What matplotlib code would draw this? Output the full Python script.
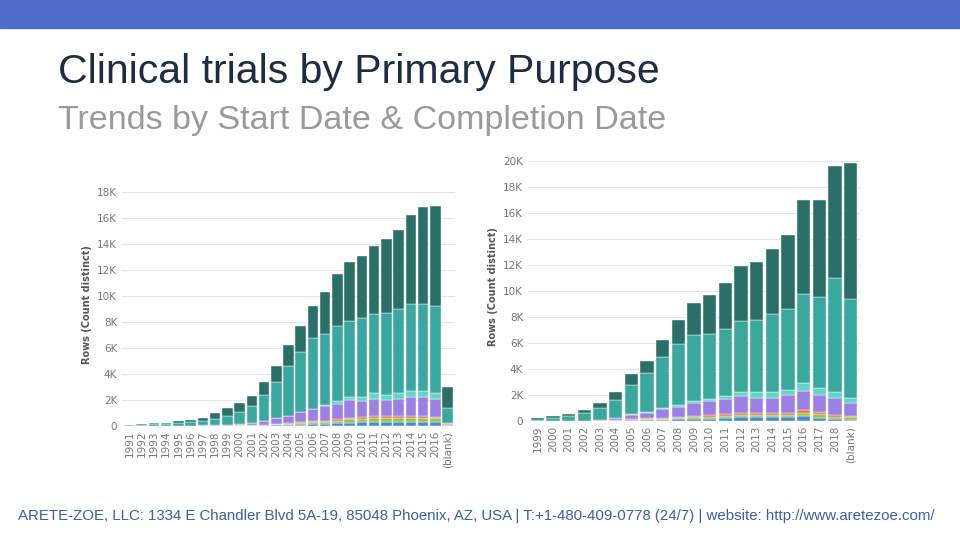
import matplotlib
matplotlib.use("Agg")
import matplotlib.pyplot as plt
import numpy as np

# Left chart (by Start Date): cumulative tops of each layer, in thousands
cats_L = [str(y) for y in range(1991, 2017)] + ["(blank)"]
blue_L   = [0,0,0,0,0,0,0,0,0.01,0.02,0.03,0.04,0.06,0.08,0.1,0.12,0.15,0.2,0.25,0.28,0.3,0.3,0.32,0.33,0.3,0.28,0.05]
green_L  = [0,0,0,0,0,0,0,0,0.02,0.04,0.06,0.08,0.12,0.16,0.22,0.27,0.33,0.42,0.5,0.56,0.6,0.6,0.62,0.65,0.6,0.58,0.1]
orange_L = [0,0,0,0,0,0,0,0,0.02,0.05,0.08,0.1,0.15,0.2,0.28,0.35,0.42,0.52,0.62,0.7,0.75,0.75,0.78,0.8,0.75,0.72,0.12]
purple_L = [0,0,0,0,0,0.02,0.05,0.08,0.1,0.15,0.25,0.4,0.6,0.8,1.1,1.3,1.5,1.7,2.0,1.9,2.1,2.0,2.1,2.2,2.2,2.1,0.2]
aqua_L   = [0,0,0,0,0,0.02,0.05,0.08,0.1,0.15,0.25,0.4,0.6,0.8,1.1,1.3,1.6,1.9,2.2,2.2,2.5,2.4,2.5,2.7,2.7,2.5,0.25]
teal_L   = [0.05,0.1,0.12,0.15,0.2,0.3,0.4,0.55,0.75,1.05,1.5,2.4,3.4,4.6,5.7,6.8,7.1,7.7,8.1,8.3,8.6,8.7,9.0,9.4,9.4,9.2,1.4]
total_L  = [0.1,0.15,0.2,0.25,0.35,0.45,0.65,1.0,1.4,1.8,2.3,3.4,4.6,6.2,7.7,9.2,10.3,11.7,12.6,13.1,13.8,14.4,15.1,16.2,16.8,16.9,3.0]

# Right chart (by Completion Date)
cats_R = [str(y) for y in range(1999, 2019)] + ["(blank)"]
blue_R   = [0,0,0,0,0.02,0.04,0.06,0.08,0.1,0.12,0.15,0.18,0.25,0.3,0.28,0.3,0.3,0.4,0.25,0.12,0.1]
green_R  = [0,0,0,0.01,0.03,0.06,0.1,0.14,0.18,0.22,0.28,0.32,0.4,0.48,0.45,0.48,0.48,0.62,0.5,0.3,0.28]
orange_R = [0,0,0,0.02,0.05,0.1,0.15,0.2,0.25,0.3,0.4,0.45,0.55,0.65,0.6,0.65,0.65,0.85,0.7,0.45,0.4]
purple_R = [0,0,0,0,0.1,0.2,0.45,0.65,0.95,1.1,1.4,1.5,1.7,1.9,1.8,1.8,2.0,2.3,2.0,1.8,1.4]
aqua_R   = [0,0,0,0,0.1,0.25,0.5,0.7,1.0,1.2,1.5,1.7,1.9,2.2,2.2,2.2,2.4,2.9,2.5,2.2,1.8]
teal_R   = [0.1,0.25,0.4,0.6,1.0,1.6,2.8,3.7,4.9,5.9,6.6,6.7,7.1,7.7,7.8,8.2,8.6,9.8,9.5,11.0,9.4]
total_R  = [0.2,0.35,0.55,0.85,1.4,2.2,3.6,4.6,6.2,7.8,9.1,9.7,10.6,11.9,12.2,13.2,14.3,17.0,17.0,19.6,19.8]

colors = ["#3f8fd2", "#9cc24a", "#e8743b", "#9c80e6", "#62d6c2", "#3aa89e", "#2a7068"]

fig = plt.figure(figsize=(9.6, 5.4), dpi=100)
fig.patches.append(plt.Rectangle((0, 1 - 28/540), 1, 28/540, transform=fig.transFigure,
                                 color="#4f6bcb", zorder=0))
fig.text(58/960, 1 - 72/540, "Clinical trials by Primary Purpose", fontsize=29.5,
         color="#1f2a44", va="center", family="Liberation Sans")
fig.text(58/960, 1 - 121/540, "Trends by Start Date & Completion Date", fontsize=24.5,
         color="#9a9a9a", va="center", family="Liberation Sans")
fig.text(476/960, 1 - 516/540,
         "ARETE-ZOE, LLC: 1334 E Chandler Blvd 5A-19, 85048 Phoenix, AZ, USA | T:+1-480-409-0778 (24/7) | website: http://www.aretezoe.com/",
         fontsize=10.8, color="#3b5fa8", ha="center", va="center", family="Liberation Sans")

def draw(ax, cats, layers, top, ticks):
    x = np.arange(len(cats))
    prev = np.zeros(len(cats))
    for lay, c in zip(layers, colors):
        lay = np.array(lay)
        ax.bar(x, np.maximum(lay - prev, 0), bottom=prev, color=c, width=0.86,
               edgecolor="white", linewidth=0.3, zorder=2)
        prev = np.maximum(prev, lay)
    ax.set_xlim(-0.6, len(cats) - 0.4)
    ax.set_ylim(0, top)
    ax.set_yticks(ticks)
    ax.set_yticklabels(["0"] + [f"{t}K" for t in ticks[1:]])
    ax.set_xticks(x)
    ax.set_xticklabels(cats, rotation=90)
    ax.grid(axis="y", color="#e6e6e6", linewidth=0.8, zorder=0)
    for s in ax.spines.values():
        s.set_visible(False)
    ax.tick_params(length=0, labelsize=7.5, colors="#777777")
    ax.set_ylabel("Rows (Count distinct)", fontsize=7, color="#555555", fontweight="bold")

axL = fig.add_axes([122/960, 1 - 426/540, 333/960, 242/540])
draw(axL, cats_L, [blue_L, green_L, orange_L, purple_L, aqua_L, teal_L, total_L],
     18.6, list(range(0, 19, 2)))
axR = fig.add_axes([528/960, 1 - 421/540, 332/960, 268/540])
draw(axR, cats_R, [blue_R, green_R, orange_R, purple_R, aqua_R, teal_R, total_R],
     20.6, list(range(0, 21, 2)))

fig.savefig("out.png", dpi=100)
